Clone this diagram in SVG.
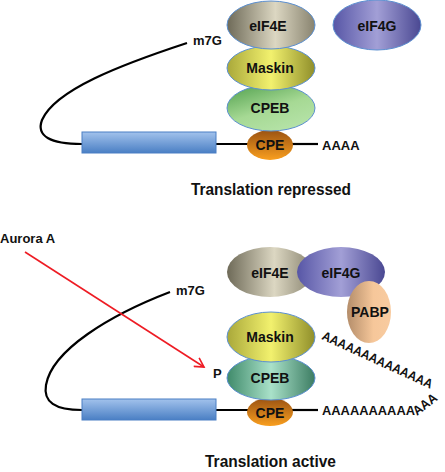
<svg xmlns="http://www.w3.org/2000/svg" width="445" height="472" viewBox="0 0 445 472">
<defs>
<linearGradient id="g4e" x1="0" y1="0" x2="1" y2="0"><stop offset="0" stop-color="#6e6a58"/><stop offset="0.55" stop-color="#dcd7c2"/><stop offset="1" stop-color="#88836f"/></linearGradient>
<linearGradient id="g4g" x1="0" y1="0" x2="1" y2="0"><stop offset="0" stop-color="#5756a6"/><stop offset="0.5" stop-color="#a29fd6"/><stop offset="1" stop-color="#4a4892"/></linearGradient>
<linearGradient id="gmask" x1="0" y1="0" x2="1" y2="0"><stop offset="0" stop-color="#a9a83a"/><stop offset="0.5" stop-color="#f2f16e"/><stop offset="1" stop-color="#8f8e2a"/></linearGradient>
<linearGradient id="gcpeb1" x1="0" y1="0" x2="0.6" y2="1"><stop offset="0" stop-color="#4f9f4c"/><stop offset="0.6" stop-color="#a6d994"/><stop offset="1" stop-color="#b4e2a6"/></linearGradient>
<linearGradient id="gcpeb2" x1="0" y1="0" x2="1" y2="0"><stop offset="0" stop-color="#3f8a6a"/><stop offset="0.5" stop-color="#a9e1c9"/><stop offset="1" stop-color="#3c7c62"/></linearGradient>
<linearGradient id="gcpe" x1="0" y1="0" x2="0" y2="1"><stop offset="0" stop-color="#9a5212"/><stop offset="1" stop-color="#f99f1f"/></linearGradient>
<linearGradient id="gpabp" x1="0" y1="0" x2="1" y2="0"><stop offset="0" stop-color="#b48d6a"/><stop offset="0.6" stop-color="#f6c79a"/><stop offset="1" stop-color="#f8cba0"/></linearGradient>
<linearGradient id="gbar" x1="0" y1="0" x2="0" y2="1"><stop offset="0" stop-color="#a2c2ec"/><stop offset="1" stop-color="#4a7fc4"/></linearGradient>
<marker id="arr" markerWidth="12" markerHeight="12" refX="10" refY="6" orient="auto" markerUnits="userSpaceOnUse"><polyline points="1,1 10,6 1,11" fill="none" stroke="#ee1c24" stroke-width="1.6"/></marker>
</defs>
<style>
.lbl{font-family:"Liberation Sans",Arial,sans-serif;font-weight:bold;font-size:14px;fill:#111;text-anchor:middle}
.txt{font-family:"Liberation Sans",Arial,sans-serif;font-weight:bold;font-size:13px;fill:#111}
.ttl{font-family:"Liberation Sans",Arial,sans-serif;font-weight:bold;font-size:17px;fill:#111}
.rna{fill:none;stroke:#000;stroke-width:2.2}
.ol{stroke:#5b8fd0;stroke-width:1}
</style>
<g id="connectors">
<path class="rna" d="M187,43 C120,65 55,90 42,120 C36,136 50,144 82,144"/>
<line class="rna" x1="216" y1="144" x2="250" y2="144"/>
<line class="rna" x1="290" y1="144" x2="318" y2="144"/>
<path class="rna" d="M170,292 C110,315 52,350 46,385 C43,402 55,410 82,410"/>
<line class="rna" x1="216" y1="410" x2="250" y2="410"/>
<line class="rna" x1="290" y1="410" x2="318" y2="410"/>
</g>
<g id="top-m7g"><text class="txt" x="193" y="45">m7G</text></g>
<g id="top-bar"><rect x="82" y="132" width="134" height="21" fill="url(#gbar)" stroke="#4a7fc4" stroke-width="1"/></g>
<g id="top-cpe"><ellipse cx="270" cy="145" rx="23" ry="15" fill="url(#gcpe)"/><text class="lbl" x="270" y="150">CPE</text></g>
<g id="top-cpeb"><ellipse class="ol" cx="271" cy="108" rx="44" ry="23" fill="url(#gcpeb1)"/><text class="lbl" x="270" y="113">CPEB</text></g>
<g id="top-maskin"><ellipse class="ol" cx="271" cy="68" rx="44" ry="22" fill="url(#gmask)"/><text class="lbl" x="270" y="73">Maskin</text></g>
<g id="top-eif4e"><ellipse class="ol" cx="271" cy="25" rx="44" ry="24" fill="url(#g4e)"/><text class="lbl" x="268" y="31">eIF4E</text></g>
<g id="top-eif4g"><ellipse class="ol" cx="377" cy="25" rx="44" ry="25" fill="url(#g4g)"/><text class="lbl" x="377" y="31">eIF4G</text></g>
<g id="top-aaaa"><text class="txt" x="322" y="150">AAAA</text></g>
<g id="title-top"><text class="ttl" x="191" y="195" textLength="160" lengthAdjust="spacingAndGlyphs">Translation repressed</text></g>

<g id="aurora"><text class="txt" x="0" y="243">Aurora A</text><line x1="25" y1="252" x2="204" y2="367" stroke="#ee1c24" stroke-width="1.6" marker-end="url(#arr)"/></g>
<g id="bot-m7g"><text class="txt" x="176" y="295">m7G</text></g>
<g id="bot-bar"><rect x="82" y="399" width="134" height="21" fill="url(#gbar)" stroke="#4a7fc4" stroke-width="1"/></g>
<g id="bot-cpe"><ellipse cx="270" cy="412" rx="23" ry="14" fill="url(#gcpe)"/><text class="lbl" x="270" y="418">CPE</text></g>
<g id="bot-cpeb"><ellipse class="ol" cx="271" cy="378" rx="44" ry="22" fill="url(#gcpeb2)"/><text class="lbl" x="270" y="383">CPEB</text></g>
<g id="bot-maskin"><ellipse class="ol" cx="271" cy="337" rx="44" ry="25" fill="url(#gmask)"/><text class="lbl" x="270" y="342">Maskin</text></g>
<g id="bot-p"><text class="txt" x="213" y="378">P</text></g>
<g id="bot-eif4e"><ellipse cx="270" cy="272" rx="43" ry="25" fill="url(#g4e)"/><text class="lbl" x="270" y="278">eIF4E</text></g>
<g id="bot-eif4g"><ellipse cx="341" cy="272" rx="44" ry="25" fill="url(#g4g)"/><text class="lbl" x="341" y="278">eIF4G</text></g>
<g id="bot-pabp"><ellipse cx="369" cy="312" rx="22" ry="31" fill="url(#gpabp)"/><text class="lbl" x="370" y="317">PABP</text></g>
<g id="polyA">
<text class="txt" x="322" y="415" textLength="93" lengthAdjust="spacingAndGlyphs">AAAAAAAAAA</text>
<text class="txt" transform="translate(417,416) rotate(-38)" font-size="11" textLength="27" lengthAdjust="spacingAndGlyphs">AAA</text>
<text class="txt" transform="translate(321,339) rotate(24.5)" textLength="120" lengthAdjust="spacingAndGlyphs">AAAAAAAAAAAAAA</text>
</g>
<g id="title-bot"><text class="ttl" x="205" y="467" textLength="131" lengthAdjust="spacingAndGlyphs">Translation active</text></g>
</svg>
